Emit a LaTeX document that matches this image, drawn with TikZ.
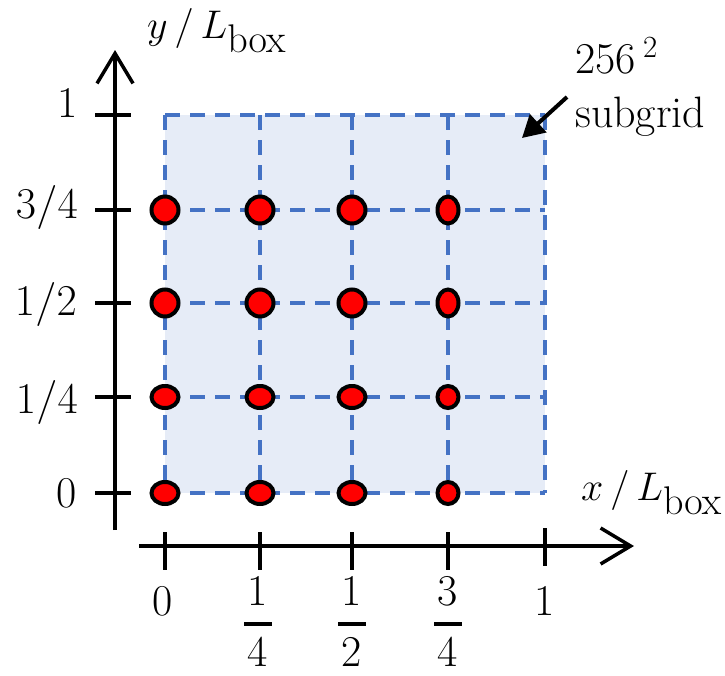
\RequirePackage{fix-cm}
\documentclass[tikz,border=0pt]{standalone}
\usetikzlibrary{arrows.meta,shapes.geometric}
\definecolor{gridblue}{RGB}{68,114,196}
\definecolor{gridfill}{RGB}{230,236,247}
\definecolor{dotred}{RGB}{255,0,0}
\begin{document}
\begin{tikzpicture}[x=1pt,y=-1pt,
  gridline/.style={draw=gridblue,line width=3.5pt,dash pattern=on 15pt off 10pt},
  rdot/.style={ellipse,draw=black,fill=dotred,line width=4pt,inner sep=0pt},
  axisline/.style={line width=3.5pt,draw=black},
  barb/.style={-{Straight Barb[length=30pt,width=36pt]}},
  ticklbl/.style={font=\fontsize{44}{52}\selectfont,inner sep=0pt},
  axlbl/.style={font=\fontsize{40}{48}\selectfont,inner sep=0pt}
]
\useasboundingbox (0,0) rectangle (725,675);

% subgrid area
\fill[gridfill] (165,115) rectangle (545,493);
\foreach \x in {165,260,352,448,545} \draw[gridline] (\x,115) -- (\x,493);
\foreach \y in {115,210,303,397,493} \draw[gridline] (165,\y) -- (545,\y);

% dots
\foreach \x/\c/\w in {165/1/27,260/2/27,352/3/27,448/4/21}
  \foreach \y/\r/\h in {210/3/27,303/2/27,397/1/22,493/0/22}
    \node[rdot,minimum width=\w pt,minimum height=\h pt] (d\c\r) at (\x,\y) {};

% axes
\coordinate (yb) at (115,530);
\coordinate (yt) at (115,50);
\draw[axisline,barb] (yb) -- (yt);
\coordinate (xl) at (139,546);
\coordinate (xr) at (634,546);
\draw[axisline,barb] (xl) -- (xr);

% y ticks
\foreach \y in {115,210,303,397,493} \draw[axisline] (95,\y) -- (131,\y);
% x ticks
\foreach \x in {165,260,352,448} \draw[axisline] (\x,532) -- (\x,570);
\draw[axisline] (545,528) -- (545,566);

% y tick labels
\node[ticklbl,anchor=base east] (ly4) at (78,117) {1};
\node[ticklbl,anchor=base east] (ly3) at (78,218) {$3/4$};
\node[ticklbl,anchor=base east] (ly2) at (77,315) {$1/2$};
\node[ticklbl,anchor=base east] (ly1) at (78,413) {$1/4$};
\node[ticklbl,anchor=base east] (ly0) at (77,507) {0};

% x tick labels
\node[ticklbl,anchor=base] (lx0) at (163,615) {0};
\node[ticklbl,anchor=base] (lx4) at (545,615) {1};
\foreach \x/\n/\d/\k in {258/1/4/1,352/1/2/2,448/3/4/3}{
  \node[ticklbl,anchor=base] (lxn\k) at (\x,605) {\n};
  \draw[line width=4.5pt] (\x-14,624) -- (\x+14,624);
  \node[ticklbl,anchor=base] (lxd\k) at (\x,666) {\d};
}

% axis labels
\node[axlbl,anchor=base west] (ylab) at (147,38) {$y\,/\,L_{\textstyle\mathrm{box}}$};
\node[axlbl,anchor=base west] (xlab) at (581,500) {$x\,/\,L_{\textstyle\mathrm{box}}$};

% subgrid annotation
\node[ticklbl,anchor=base west] (sg1) at (575,73) {256\,$^{2}$};
\node[ticklbl,anchor=base west] (sg2) at (575,127) {subgrid};
\coordinate (arS) at (567,97);
\coordinate (arE) at (522,138);
\draw[line width=4pt,-{Triangle[length=22pt,width=24pt]}] (arS) -- (arE);
\end{tikzpicture}
\end{document}
